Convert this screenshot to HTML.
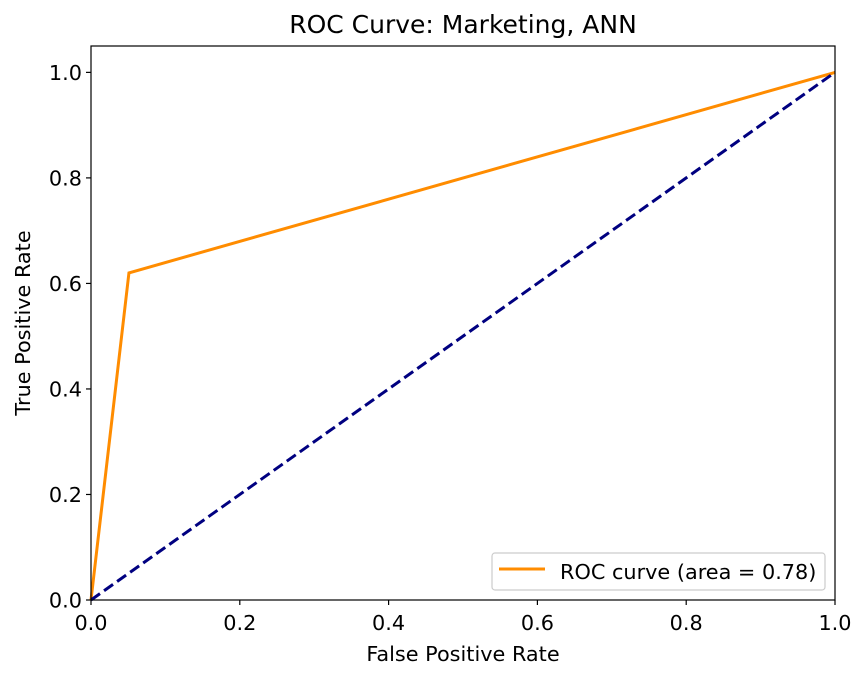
<!DOCTYPE html>
<html><head><meta charset="utf-8"><style>
body{margin:0;background:#fff;}
svg text{font-family:"DejaVu Sans","Liberation Sans",sans-serif;fill:#000;}
</style></head><body>
<svg id="chart" width="866" height="678" xmlns="http://www.w3.org/2000/svg">
<text x="463" y="33" font-size="25" text-anchor="middle">ROC Curve: Marketing, ANN</text>
<g id="plot"></g>
<text x="463" y="661" font-size="20.8" text-anchor="middle">False Positive Rate</text>
<text x="0" y="0" font-size="20.8" text-anchor="middle" transform="translate(30,323) rotate(-90)">True Positive Rate</text>
<g>
<rect x="492" y="553" width="333" height="37" rx="3" fill="#fff" stroke="#ccc" stroke-width="1.2"/>
<line x1="499" y1="569" x2="545" y2="569" stroke="#ff8c00" stroke-width="3"/>
<text x="560" y="579" font-size="20.8">ROC curve (area = 0.78)</text>
</g>
</svg>
<script>
const fpr = [0, 0.051, 1];
const tpr = [0, 0.62, 1];
const diagX = [0, 1];
const diagY = [0, 1];
const xTicks = ["0.0","0.2","0.4","0.6","0.8","1.0"];
const yTicks = ["0.0","0.2","0.4","0.6","0.8","1.0"];
const L=91,R=835,T=46,B=600,YMAX=1.05;
const sx=v=>L+(R-L)*v, sy=v=>B-(B-T)*v/YMAX;
const g=document.getElementById('plot');
const NS='http://www.w3.org/2000/svg';
function mk(tag,attrs){const e=document.createElementNS(NS,tag);for(const k in attrs)e.setAttribute(k,attrs[k]);g.appendChild(e);return e;}
const roc=mk('polyline',{points:fpr.map((v,i)=>sx(v)+','+sy(tpr[i])).join(' '),fill:'none',stroke:'#ff8c00','stroke-width':3});


const dg=mk('polyline',{points:diagX.map((v,i)=>sx(v)+','+sy(diagY[i])).join(' '),fill:'none',stroke:'#000080','stroke-width':3,'stroke-dasharray':'11,5'});


const fr=mk('rect',{x:L,y:T,width:R-L,height:B-T,fill:'none',stroke:'#000','stroke-width':1.2});


xTicks.forEach(t=>{const x=sx(parseFloat(t));
 const l=mk('line',{x1:x,y1:B,x2:x,y2:B+5,stroke:'#000','stroke-width':1.2});
 
 
 const tx=mk('text',{x:x,y:B+30,'font-size':20.8,'text-anchor':'middle'});tx.textContent=t;
 
 
});
yTicks.forEach(t=>{const y=sy(parseFloat(t));
 const l=mk('line',{x1:L-5,y1:y,x2:L,y2:y,stroke:'#000','stroke-width':1.2});
 
 
 const tx=mk('text',{x:L-9,y:y+7.5,'font-size':20.8,'text-anchor':'end'});tx.textContent=t;
 
 
});
</script>
</body></html>
